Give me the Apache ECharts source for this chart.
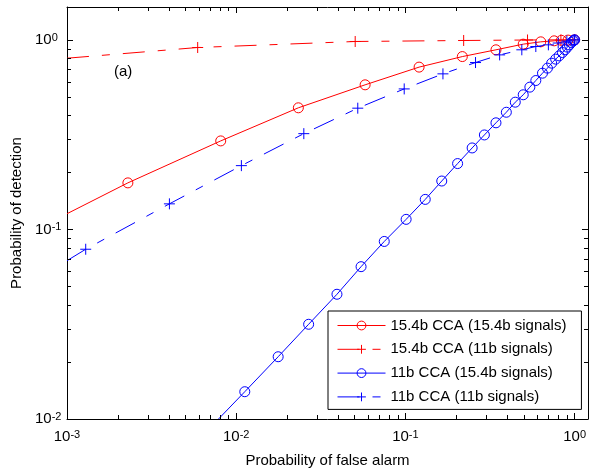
<!DOCTYPE html>
<html>
<head>
<meta charset="utf-8">
<script src="https://cdn.jsdelivr.net/npm/echarts@6/dist/echarts.min.js"></script>
<style>
  html, body { margin: 0; padding: 0; background: #fff; }
  #chart { width: 589px; height: 475px; }
</style>
</head>
<body>
<div id="chart"></div>
<script>
// ---- Data ----
const seriesNames = [
  '15.4b CCA (15.4b signals)',
  '15.4b CCA (11b signals)',
  '11b CCA (15.4b signals)',
  '11b CCA (11b signals)'
];
// 15.4b CCA (15.4b signals) - red solid, circles
const cca154_sig154_x = [0.001, 0.00229, 0.0081, 0.0233, 0.0578, 0.1205, 0.217, 0.343, 0.497, 0.631, 0.757, 0.835, 0.915, 1.0];
const cca154_sig154_y = [0.121, 0.176, 0.293, 0.438, 0.579, 0.718, 0.816, 0.886, 0.949, 0.976, 0.988, 0.994, 0.997, 1.0];
// 15.4b CCA (11b signals) - red dash-dot, plus
const cca154_sig11_x = [0.001, 0.00592, 0.0505, 0.221, 0.527, 0.83, 1.0];
const cca154_sig11_y = [0.80, 0.911, 0.980, 0.992, 0.998, 1.0, 1.0];
// 11b CCA (15.4b signals) - blue solid, circles
const cca11_sig154_x = [0.00786, 0.01124, 0.0177, 0.0268, 0.0394, 0.0547, 0.075, 0.101, 0.131, 0.164, 0.2035, 0.248, 0.293, 0.343, 0.395, 0.446, 0.497, 0.544, 0.59, 0.646, 0.691, 0.732, 0.773, 0.81, 0.847, 0.878, 0.906, 0.931, 0.956, 0.979, 0.992, 1.0];
const cca11_sig154_y = [0.0100, 0.01393, 0.0213, 0.0316, 0.0455, 0.0636, 0.0864, 0.113, 0.144, 0.180, 0.2225, 0.269, 0.315, 0.365, 0.415, 0.469, 0.513, 0.563, 0.61, 0.667, 0.709, 0.753, 0.791, 0.823, 0.857, 0.886, 0.915, 0.941, 0.968, 0.985, 0.995, 1.0];
// 11b CCA (11b signals) - blue dash-dot, plus
const cca11_sig11_x = [0.001, 0.00129, 0.00403, 0.01073, 0.0251, 0.0523, 0.0984, 0.1667, 0.2597, 0.3606, 0.4876, 0.59, 0.70, 0.80, 0.90, 1.0];
const cca11_sig11_y = [0.0684, 0.0786, 0.1364, 0.217, 0.320, 0.436, 0.551, 0.6615, 0.759, 0.833, 0.886, 0.922, 0.941, 0.962, 0.985, 1.0];
// Points that only carry the line to the plot edge (no marker)
const edgePointIndex = { a: 0, b: 0, c: 0, d: 0 };

const xRange = [0.001, 1.2];
const yRange = [0.01, 1.49];
const xTitle = 'Probability of false alarm';
const yTitle = 'Probability of detection';
const annotation = '(a)';

// ---- Build ----
const FONT = '"Liberation Sans", Arial, Helvetica, sans-serif';
const RED = '#ff0000', BLUE = '#0000ff';
const PLUS = 'path://M5,0L5,10M0,5L10,5';

function pairs(xs, ys, edgeIdx) {
  return xs.map((x, i) => i === edgeIdx ? { value: [x, ys[i]], symbol: 'none' } : [x, ys[i]]);
}
function isDecade(v) {
  const l = Math.log10(v);
  return Math.abs(l - Math.round(l)) < 1e-6;
}
function decadeLabel(v) {
  if (!isDecade(v)) return '';
  return '{b|10}{s|' + Math.round(Math.log10(v)) + '}';
}
function minorValues(lo, hi) {
  const out = [];
  for (let k = Math.floor(Math.log10(lo)); k <= Math.ceil(Math.log10(hi)); k++) {
    for (let m = 2; m <= 9; m++) {
      const v = m * Math.pow(10, k);
      if (v > lo && v < hi) out.push(v);
    }
  }
  return out;
}
const richLabel = {
  b: { fontSize: 15, lineHeight: 15, fontFamily: FONT, color: '#000', verticalAlign: 'bottom' },
  s: { fontSize: 11, lineHeight: 11, fontFamily: FONT, color: '#000', verticalAlign: 'top', padding: [0, 0, 8, 0] }
};

const baseAxis = {
  type: 'log', logBase: 10,
  axisLine: { show: true, onZero: false, lineStyle: { color: '#000', width: 1 } },
  axisTick: { show: true, inside: true, length: 6, lineStyle: { color: '#000', width: 1 } },
  splitLine: { show: false },
  minorTick: { show: false }
};

const MINOR_LEN = 4;
function minorTickSeries(axis) {
  const vals = axis === 'x' ? minorValues(xRange[0], xRange[1]) : minorValues(yRange[0], yRange[1]);
  return {
    type: 'custom', silent: true, clip: false, z: 5,
    xAxisIndex: 0, yAxisIndex: 0,
    data: vals.map(v => axis === 'x' ? [v, 0.1] : [0.1, v]),
    renderItem: function (params, api) {
      const cs = params.coordSys;
      const style = { stroke: '#000', lineWidth: 1 };
      if (axis === 'x') {
        const x = Math.round(api.coord([api.value(0), 0.1])[0]) + 0.5;
        const yb = cs.y + cs.height, yt = cs.y;
        return { type: 'group', children: [
          { type: 'line', shape: { x1: x, y1: yb, x2: x, y2: yb - MINOR_LEN }, style },
          { type: 'line', shape: { x1: x, y1: yt, x2: x, y2: yt + MINOR_LEN }, style }
        ]};
      } else {
        const y = Math.round(api.coord([0.1, api.value(1)])[1]) + 0.5;
        const xl = cs.x, xr = cs.x + cs.width;
        return { type: 'group', children: [
          { type: 'line', shape: { x1: xl, y1: y, x2: xl + MINOR_LEN, y2: y }, style },
          { type: 'line', shape: { x1: xr, y1: y, x2: xr - MINOR_LEN, y2: y }, style }
        ]};
      }
    }
  };
}

function lineSeries(name, data, color, dashed, symbol) {
  const isPlus = symbol === PLUS;
  return {
    name, type: 'line', data,
    xAxisIndex: 0, yAxisIndex: 0,
    symbol, symbolSize: isPlus ? 11 : 10,
    showSymbol: true, showAllSymbol: true,
    clip: true, z: 3,
    lineStyle: { color, width: 1, type: dashed ? [22, 13, 8, 13] : 'solid' },
    itemStyle: { color: isPlus ? color : 'rgba(0,0,0,0)', borderColor: color, borderWidth: 1 },
    emphasis: { disabled: true }
  };
}

const chart = echarts.init(document.getElementById('chart'), null, { renderer: 'canvas' });
chart.setOption({
  animation: false,
  backgroundColor: '#fff',
  textStyle: { fontFamily: FONT },
  grid: { left: 67, top: 7, width: 524, height: 412, containLabel: false },
  xAxis: [
    Object.assign({}, baseAxis, {
      position: 'bottom', min: xRange[0], max: xRange[1],
      name: xTitle, nameLocation: 'middle', nameGap: 31,
      nameTextStyle: { fontSize: 15, color: '#000', fontFamily: FONT },
      axisLabel: { show: true, margin: 10, formatter: decadeLabel, rich: richLabel, showMaxLabel: false, hideOverlap: false }
    }),
    Object.assign({}, baseAxis, {
      position: 'top', min: xRange[0], max: xRange[1],
      axisLabel: { show: false }
    })
  ],
  yAxis: [
    Object.assign({}, baseAxis, {
      position: 'left', min: yRange[0], max: yRange[1],
      name: yTitle, nameLocation: 'middle', nameGap: 42,
      nameTextStyle: { fontSize: 15, color: '#000', fontFamily: FONT },
      axisLabel: { show: true, align: 'left', margin: 32, formatter: decadeLabel, rich: richLabel, showMaxLabel: false, hideOverlap: false }
    }),
    Object.assign({}, baseAxis, {
      position: 'right', min: yRange[0], max: yRange[1],
      axisLabel: { show: false }
    })
  ],
  legend: {
    data: seriesNames,
    orient: 'vertical',
    left: 328, top: 311,
    padding: [7, 15, 5, 9],
    itemWidth: 48, itemHeight: 11, itemGap: 8.8,
    borderColor: '#000', borderWidth: 1, backgroundColor: '#fff',
    textStyle: { fontSize: 15, color: '#000', fontFamily: FONT, lineHeight: 14 },
    lineStyle: { width: 1 },
    itemStyle: { borderWidth: 1 },
    selectedMode: false,
    inactiveColor: '#000'
  },
  graphic: [
    { type: 'text', left: 114, top: 64, style: { text: annotation, font: '15px ' + FONT, fill: '#000' } }
  ],
  series: [
    lineSeries(seriesNames[0], pairs(cca154_sig154_x, cca154_sig154_y, edgePointIndex.a), RED, false, 'circle'),
    lineSeries(seriesNames[1], pairs(cca154_sig11_x, cca154_sig11_y, edgePointIndex.b), RED, true, PLUS),
    lineSeries(seriesNames[2], pairs(cca11_sig154_x, cca11_sig154_y, edgePointIndex.c), BLUE, false, 'circle'),
    lineSeries(seriesNames[3], pairs(cca11_sig11_x, cca11_sig11_y, edgePointIndex.d), BLUE, true, PLUS),
    minorTickSeries('x'),
    minorTickSeries('y')
  ]
});
</script>
</body>
</html>
